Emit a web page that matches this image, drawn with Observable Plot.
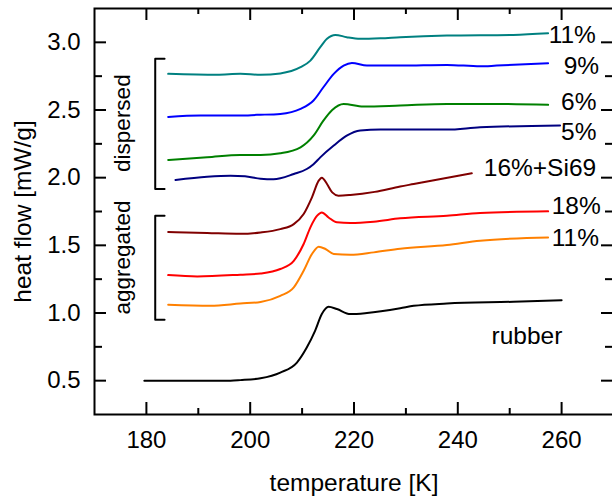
<!DOCTYPE html>
<html><head><meta charset="utf-8">
<script src="https://cdn.jsdelivr.net/npm/d3@7"></script>
<script src="https://cdn.jsdelivr.net/npm/@observablehq/plot@0.6"></script>
<style>html,body{margin:0;padding:0;background:#fff;} svg{display:block}</style>
</head><body><div id="chart"></div>
<script>
// ---- tick values ----
const xMajor = [180, 200, 220, 240, 260];
const xMinor = [190, 210, 230, 250];
const yMajor = [0.5, 1.0, 1.5, 2.0, 2.5, 3.0];
const yMinor = [0.75, 1.25, 1.75, 2.25, 2.75];

// ---- series (temperature [K], heat flow [mW/g]) ----
const tDisp11 = [184.2, 193.6, 198.1, 202.0, 205.8, 209.7, 211.6, 213.5, 214.8, 216.4, 218.6, 221.2, 225.1, 228.9, 237.9, 250.7, 257.4];
const vDisp11 = [2.767, 2.760, 2.767, 2.760, 2.770, 2.816, 2.865, 2.964, 3.026, 3.055, 3.038, 3.026, 3.030, 3.038, 3.050, 3.055, 3.067];

const tDisp9 = [184.2, 190.4, 198.1, 201.3, 205.8, 209.7, 212.2, 214.1, 216.1, 218.0, 219.6, 222.5, 228.9, 237.9, 244.3, 247.5, 257.4];
const vDisp9 = [2.449, 2.459, 2.459, 2.464, 2.471, 2.508, 2.570, 2.668, 2.767, 2.828, 2.848, 2.828, 2.828, 2.833, 2.823, 2.828, 2.846];

const tDisp6 = [184.2, 191.7, 198.1, 202.0, 205.8, 209.7, 212.2, 214.1, 215.8, 218.0, 221.8, 228.9, 237.9, 247.5, 257.4];
const vDisp6 = [2.131, 2.150, 2.168, 2.168, 2.180, 2.224, 2.310, 2.421, 2.500, 2.545, 2.525, 2.533, 2.545, 2.545, 2.538];

const tDisp5 = [185.6, 191.7, 196.2, 199.0, 202.0, 204.5, 208.4, 210.9, 212.2, 213.5, 216.1, 218.6, 221.2, 225.1, 237.9, 244.3, 259.7];
const vDisp5 = [1.983, 2.007, 2.015, 2.010, 1.992, 1.988, 2.027, 2.064, 2.100, 2.150, 2.237, 2.310, 2.348, 2.355, 2.355, 2.372, 2.385];

const tSi69 = [184.2, 191.7, 198.1, 202.0, 205.8, 208.4, 210.3, 211.9, 213.2, 213.8, 214.8, 215.8, 217.0, 219.3, 224.0, 228.9, 231.5, 242.7];
const vSi69 = [1.598, 1.591, 1.585, 1.595, 1.620, 1.657, 1.732, 1.855, 1.978, 2.000, 1.953, 1.891, 1.867, 1.872, 1.895, 1.935, 1.953, 2.032];

const tAgg18 = [184.2, 189.8, 198.1, 202.0, 205.8, 208.4, 210.3, 211.6, 212.9, 213.8, 215.1, 216.7, 219.3, 223.8, 228.9, 237.9, 244.3, 257.4];
const vAgg18 = [1.280, 1.270, 1.283, 1.292, 1.325, 1.386, 1.510, 1.633, 1.719, 1.743, 1.706, 1.670, 1.665, 1.675, 1.700, 1.719, 1.739, 1.751];

const tAgg11 = [184.2, 192.3, 198.1, 202.0, 205.8, 208.4, 210.3, 211.9, 213.2, 214.5, 216.1, 219.3, 223.8, 228.9, 237.9, 244.3, 257.4];
const vAgg11 = [1.061, 1.053, 1.070, 1.082, 1.127, 1.189, 1.312, 1.436, 1.490, 1.473, 1.436, 1.430, 1.448, 1.475, 1.502, 1.534, 1.558];

const tRubber = [179.6, 196.2, 198.1, 202.0, 205.8, 209.0, 210.9, 212.5, 213.8, 215.1, 216.7, 219.3, 222.5, 228.9, 231.5, 237.9, 250.7, 260.0];
const vRubber = [0.500, 0.500, 0.504, 0.518, 0.560, 0.634, 0.745, 0.868, 0.992, 1.046, 1.029, 0.992, 1.000, 1.035, 1.053, 1.070, 1.083, 1.095];

// ---- curve labels ----
const curveNames = ["11%", "9%", "6%", "5%", "16%+Si69", "18%", "11%", "rubber"];
const curveLabelT = [257.5, 260.4, 259.9, 259.9, 245.0, 258.1, 258.1, 246.5];
const curveLabelV = [3.05, 2.825, 2.557, 2.338, 2.069, 1.787, 1.55, 0.831];

// ---- group brackets ----
const groupNames = ["dispersed", "aggregated"];
const groupLabelT = [175.5, 175.5];
const groupLabelV = [2.403, 1.41];
const bracketT = [183.5, 181.7, 181.7, 183.5];
const bracketDispV = [2.878, 2.878, 1.917, 1.917];
const bracketAggV = [1.719, 1.719, 0.95, 0.95];

// ---- styles ----
const colors = ["#008080", "#0000ff", "#008000", "#000080", "#800000", "#ff0000", "#ff8000", "#000000"];
const seriesT = [tDisp11, tDisp9, tDisp6, tDisp5, tSi69, tAgg18, tAgg11, tRubber];
const seriesV = [vDisp11, vDisp9, vDisp6, vDisp5, vSi69, vAgg18, vAgg11, vRubber];

const W = 612, H = 496, ML = 94, MR = -1, MT = 8, MB = 82;
const FW = W - ML - MR, FH = H - MT - MB;

const zip = (ts, vs) => ts.map((t, i) => ({t, v: vs[i]}));
const FS = 24;
const tickStyle = {stroke: "#000", strokeWidth: 2};

const lineMarks = seriesT.map((ts, k) =>
  Plot.line(zip(ts, seriesV[k]), {x: "t", y: "v", stroke: colors[k], strokeWidth: 2, curve: "monotone-x"})
);

const chart = Plot.plot({
  width: W,
  height: H,
  marginLeft: ML,
  marginRight: MR,
  marginTop: MT,
  marginBottom: MB,
  style: {fontFamily: "'Liberation Sans', Arial, sans-serif", fontSize: "24px", background: "#fff", color: "#000"},
  x: {domain: [170, 270]},
  y: {domain: [0.25, 3.25]},
  marks: [
    ...lineMarks,
    Plot.line(zip(bracketT, bracketDispV), {x: "t", y: "v", stroke: "#000", strokeWidth: 2}),
    Plot.line(zip(bracketT, bracketAggV), {x: "t", y: "v", stroke: "#000", strokeWidth: 2}),
    Plot.text(groupNames, {text: d => d, x: (d, i) => groupLabelT[i], y: (d, i) => groupLabelV[i], rotate: -90, fontSize: 22.5, fill: "#000"}),
    Plot.text(curveNames, {text: d => d, x: (d, i) => curveLabelT[i], y: (d, i) => curveLabelV[i], textAnchor: "start", fontSize: 24.5, fill: "#000"}),
    // inward ticks on all four sides
    Plot.ruleX(xMajor, {insetTop: FH - 12, ...tickStyle}),
    Plot.ruleX(xMinor, {insetTop: FH - 6, ...tickStyle}),
    Plot.ruleX(xMajor, {insetBottom: FH - 12, ...tickStyle}),
    Plot.ruleX(xMinor, {insetBottom: FH - 6, ...tickStyle}),
    Plot.ruleY(yMajor, {insetRight: FW - 12, ...tickStyle}),
    Plot.ruleY(yMinor, {insetRight: FW - 8, ...tickStyle}),
    Plot.ruleY(yMajor, {insetLeft: FW - 12, ...tickStyle}),
    Plot.ruleY(yMinor, {insetLeft: FW - 8, ...tickStyle}),
    // tick labels
    Plot.axisX(xMajor, {anchor: "bottom", tickSize: 0, tickPadding: 16, fontSize: FS, label: null}),
    Plot.axisY(yMajor, {anchor: "left", tickSize: 0, tickPadding: 14, fontSize: FS, label: null, tickFormat: d => d.toFixed(1)}),
    // axis titles
    Plot.text(["temperature [K]"], {text: d => d, frameAnchor: "bottom", lineAnchor: "middle", textAnchor: "middle", dy: 69, fontSize: 24.5, fill: "#000"}),
    Plot.text(["heat flow [mW/g]"], {text: d => d, frameAnchor: "left", lineAnchor: "middle", textAnchor: "middle", rotate: -90, dx: -71, fontSize: 24.5, fill: "#000"}),
    Plot.frame({stroke: "#000", strokeWidth: 2})
  ]
});
document.getElementById("chart").appendChild(chart);
</script>
</body></html>
